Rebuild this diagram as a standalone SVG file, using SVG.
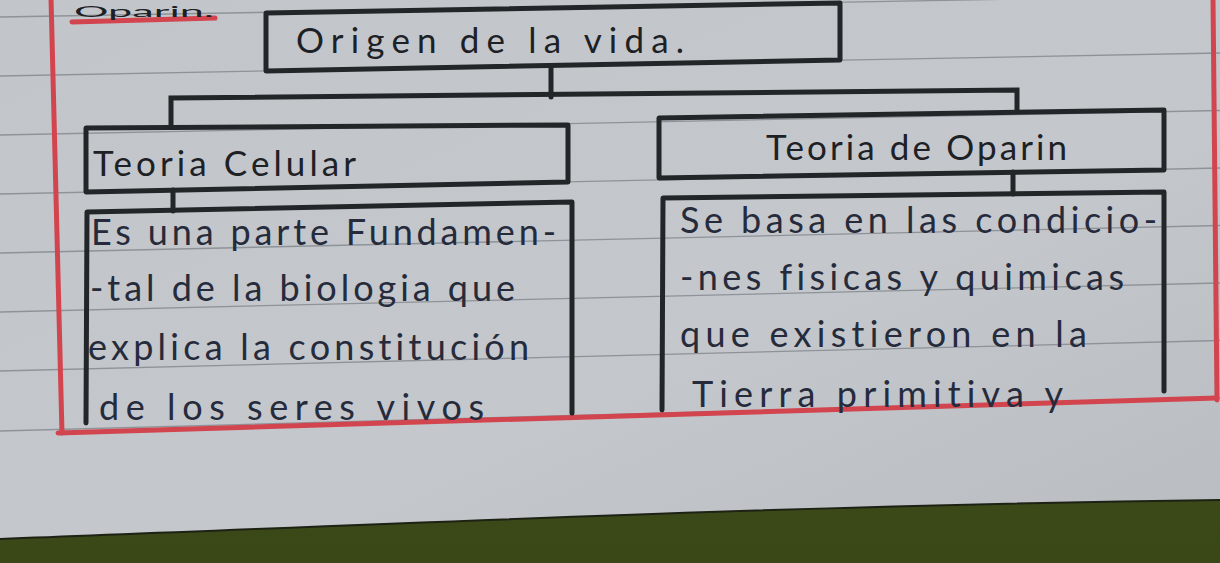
<svg xmlns="http://www.w3.org/2000/svg" width="1220" height="563" viewBox="0 0 1220 563">
<defs>
<linearGradient id="paper" x1="0" y1="0" x2="1" y2="1">
<stop offset="0" stop-color="#c2c6cb"/>
<stop offset="0.6" stop-color="#c4c7cb"/>
<stop offset="1" stop-color="#b9bcc0"/>
</linearGradient>
<linearGradient id="floor" x1="0" y1="0" x2="0" y2="1">
<stop offset="0" stop-color="#44531f"/>
<stop offset="1" stop-color="#3a4818"/>
</linearGradient>
<style>
.rule{stroke:#8e9399;stroke-width:1.3;fill:none}
.red{stroke:#d2454f;stroke-width:5;fill:none;stroke-linecap:round}
.box{stroke:#222629;stroke-width:5;fill:none;stroke-linejoin:round;stroke-linecap:round}
.con{stroke:#222629;stroke-width:5;fill:none;stroke-linecap:round}
.h{font-family:Lato,"Open Sans","DejaVu Sans",sans-serif;fill:#1d2125;font-variant-ligatures:none}
.b{font-family:Lato,"Open Sans","DejaVu Sans",sans-serif;font-size:36px;fill:#262b3c;font-variant-ligatures:none}
</style>
</defs>
<rect x="0" y="0" width="1220" height="563" fill="url(#floor)"/>
<path d="M0,0 L1220,0 L1220,500 C800,505 400,524 0,539 Z" fill="url(#paper)"/>
<path d="M0,539 C400,524 800,505 1220,500" stroke="#1d2214" stroke-width="2" fill="none"/>
<g id="ruling">
<line class="rule" x1="0" y1="17" x2="1220" y2="-4.5"/>
<line class="rule" x1="0" y1="76" x2="1220" y2="53"/>
<line class="rule" x1="0" y1="135" x2="1220" y2="110.5"/>
<line class="rule" x1="0" y1="194" x2="1220" y2="168"/>
<line class="rule" x1="0" y1="253" x2="1220" y2="225.5"/>
<line class="rule" x1="0" y1="312" x2="1220" y2="283"/>
<line class="rule" x1="0" y1="371" x2="1220" y2="340.5"/>
<line class="rule" x1="0" y1="431" x2="1220" y2="398"/>
</g>
<g id="margins">
<path class="red" d="M51,-2 L62,433"/>
<path class="red" d="M58,433 L1217,398"/>
<path class="red" d="M1213,-2 L1217,400"/>
<path class="red" d="M72,22 L215,18" stroke-width="6"/>
</g>
<text class="h" x="74" y="17" font-size="16" textLength="140" lengthAdjust="spacingAndGlyphs">Oparin.</text>
<g id="connectors">
<path class="con" d="M551,66 L551,97"/>
<path class="con" d="M171,127 L171,98 L1017,90 L1017,111"/>
<path class="con" d="M173,190 L173,211"/>
<path class="con" d="M1013,172 L1013,194"/>
</g>
<g id="origen">
<path class="box" d="M266,13 L840,3 L840,60 L266,71 Z"/>
<text class="h" x="296" y="53" font-size="35" textLength="388" lengthAdjust="spacing">Origen de la vida.</text>
</g>
<g id="teoria-celular">
<path class="box" d="M86,128 L568,125 L568,182 L86,192 Z"/>
<text class="h" x="93" y="176" font-size="35" textLength="263" lengthAdjust="spacing">Teoria Celular</text>
</g>
<g id="teoria-oparin">
<path class="box" d="M659,118 L1164,110 L1164,170 L659,178 Z"/>
<text class="h" x="766" y="160" font-size="35" textLength="301" lengthAdjust="spacing">Teoria de Oparin</text>
</g>
<g id="celular-desc">
<path class="box" d="M86,423 L87,212 L572,202 L572,413"/>
<text class="b" x="91" y="245" textLength="465" lengthAdjust="spacing">Es una parte Fundamen-</text>
<text class="b" x="90" y="301" textLength="425" lengthAdjust="spacing">-tal de la biologia que</text>
<text class="b" x="88" y="360" textLength="441" lengthAdjust="spacing">explica la constitución</text>
<text class="b" x="99" y="420" textLength="385" lengthAdjust="spacing">de los seres vivos</text>
</g>
<g id="oparin-desc">
<path class="box" d="M662,410 L663,198 L1164,192 L1164,391"/>
<text class="b" x="680" y="233" textLength="477" lengthAdjust="spacing">Se basa en las condicio-</text>
<text class="b" x="680" y="290" textLength="444" lengthAdjust="spacing">-nes fisicas y quimicas</text>
<text class="b" x="680" y="347" textLength="407" lengthAdjust="spacing">que existieron en la</text>
<text class="b" x="692" y="407" textLength="371" lengthAdjust="spacing">Tierra primitiva y</text>
</g>
</svg>
